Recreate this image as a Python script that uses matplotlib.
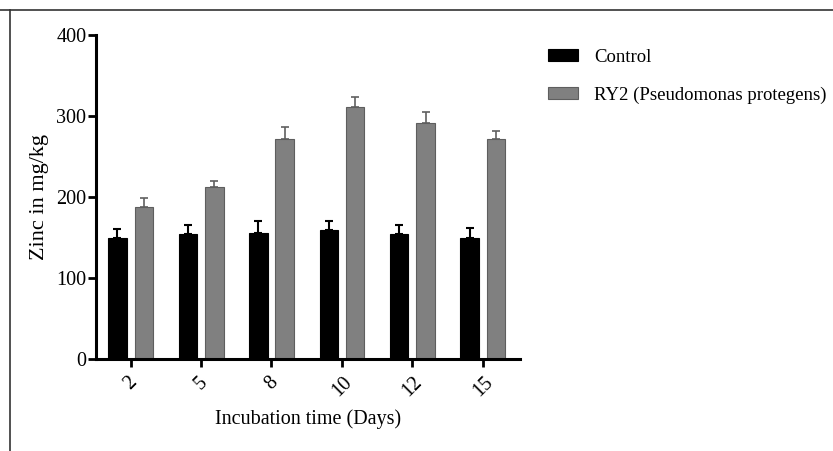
import numpy as np
import matplotlib
matplotlib.use("Agg")
import matplotlib.pyplot as plt
from matplotlib.lines import Line2D

days = ["2", "5", "8", "10", "12", "15"]
control = [150, 154, 155, 159, 154, 150]
control_err = [11, 11, 15, 11, 12, 12]
ry2 = [188, 212, 271, 311, 291, 271]
ry2_err = [11, 8, 15, 13, 14, 11]

plt.rcParams['font.family'] = ['Liberation Serif', 'DejaVu Serif']

fig = plt.figure(figsize=(8.33, 4.51), dpi=100)
ax = fig.add_axes([96/833, 1-359/451, 424/833, 324/451])

x = np.arange(len(days))
w = 0.263
ax.bar(x - 0.185, control, w, color='black', edgecolor='black', linewidth=0.8,
       label='Control', zorder=2)
ax.errorbar(x - 0.185, control, yerr=[np.zeros(len(days)), control_err], fmt='none',
            ecolor='black', elinewidth=1.5, capsize=3, capthick=1.5, zorder=1)
ax.bar(x + 0.19, ry2, w, color='#808080', edgecolor='#5e5e5e', linewidth=0.8,
       label='RY2 (Pseudomonas protegens)', zorder=2)
ax.errorbar(x + 0.19, ry2, yerr=[np.zeros(len(days)), ry2_err], fmt='none',
            ecolor='#606060', elinewidth=1.2, capsize=3, capthick=1.2, zorder=1)

ax.set_xlim(-0.49, 5.53)
ax.set_ylim(0, 400)
ax.set_yticks([0, 100, 200, 300, 400])
ax.set_xticks(x)
ax.set_xticklabels(days, rotation=45, ha='center', va='top')
ax.tick_params(axis='both', labelsize=14.5, width=2, length=6, direction='out')
ax.tick_params(axis='y', pad=1)
ax.tick_params(axis='x', pad=4)
for s in ['top', 'right']:
    ax.spines[s].set_visible(False)
for s in ['left', 'bottom']:
    ax.spines[s].set_linewidth(2.2)

ax.set_xlabel('Incubation time (Days)', fontsize=14.5, labelpad=6)
ax.set_ylabel('Zinc in mg/kg', fontsize=16, labelpad=5)

fig.legend(loc='upper left', bbox_to_anchor=(531/833, 1-32/451), frameon=False,
           fontsize=13.5, handlelength=1.6, handleheight=0.6, handletextpad=0.85,
           labelspacing=1.1)

fig.add_artist(Line2D([0, 1], [1-10/451, 1-10/451], color='#333333', linewidth=1.2,
                      transform=fig.transFigure))
fig.add_artist(Line2D([10/833, 10/833], [0, 1-10/451], color='#333333', linewidth=1.2,
                      transform=fig.transFigure))

fig.savefig('out.png', dpi=100)
